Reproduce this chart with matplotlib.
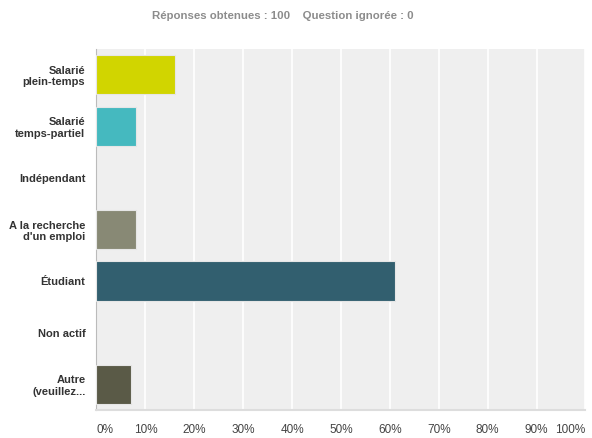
import matplotlib
matplotlib.use("Agg")
import matplotlib.pyplot as plt
import numpy as np

plt.rcParams['font.family'] = ['Liberation Sans', 'DejaVu Sans']

# response categories, top to bottom
categories = ["Salarié\nplein-temps", "Salarié\ntemps-partiel", "Indépendant",
              "A la recherche\nd'un emploi", "Étudiant", "Non actif", "Autre\n(veuillez..."]
percents = [16, 8, 0, 8, 61, 0, 7]
colors = ["#d1d500", "#45b9bf", "#a0a0a0", "#888975", "#325f6f", "#a0a0a0", "#5a5a47"]
tick_values = [0, 10, 20, 30, 40, 50, 60, 70, 80, 90, 100]
tick_labels = [f"{v}%" for v in tick_values]

fig = plt.figure(figsize=(5.92, 4.38), dpi=100)
ax = fig.add_axes([0.163, 0.064, 0.826, 0.824])
ax.set_facecolor("#efefef")

y = np.arange(len(categories))
widths = [0.8 if p > 0 else 0 for p in percents]
ax.barh(y, percents, height=0.76, color=colors, edgecolor="#e6e6e6", linewidth=widths, zorder=3)

ax.set_xlim(0, 100)
ax.set_ylim(len(categories) - 0.5, -0.5)
ax.set_xticks(tick_values)
ax.set_xticklabels(tick_labels, fontsize=8.5, color="#444444")
ax.set_yticks(y)
ax.set_yticklabels(categories, fontsize=8, fontweight="bold", color="#333333")
ax.tick_params(axis="both", length=0)
ax.tick_params(axis="x", pad=10)
ax.tick_params(axis="y", pad=8)
labels = ax.get_xticklabels()
labels[0].set_ha("left")
labels[-1].set_ha("right")

ax.grid(axis="x", color="white", linewidth=1.2, zorder=0)
for side in ["top", "right"]:
    ax.spines[side].set_visible(False)
ax.spines["left"].set_color("#bbbbbb")
ax.spines["bottom"].set_color("#dddddd")
ax.spines["bottom"].set_linewidth(1.5)

fig.text(0.477, 0.963, "Réponses obtenues : 100    Question ignorée : 0",
         ha="center", va="center", fontsize=8.2, fontweight="bold", color="#8c8c8c")

fig.savefig("out.png", dpi=100)
